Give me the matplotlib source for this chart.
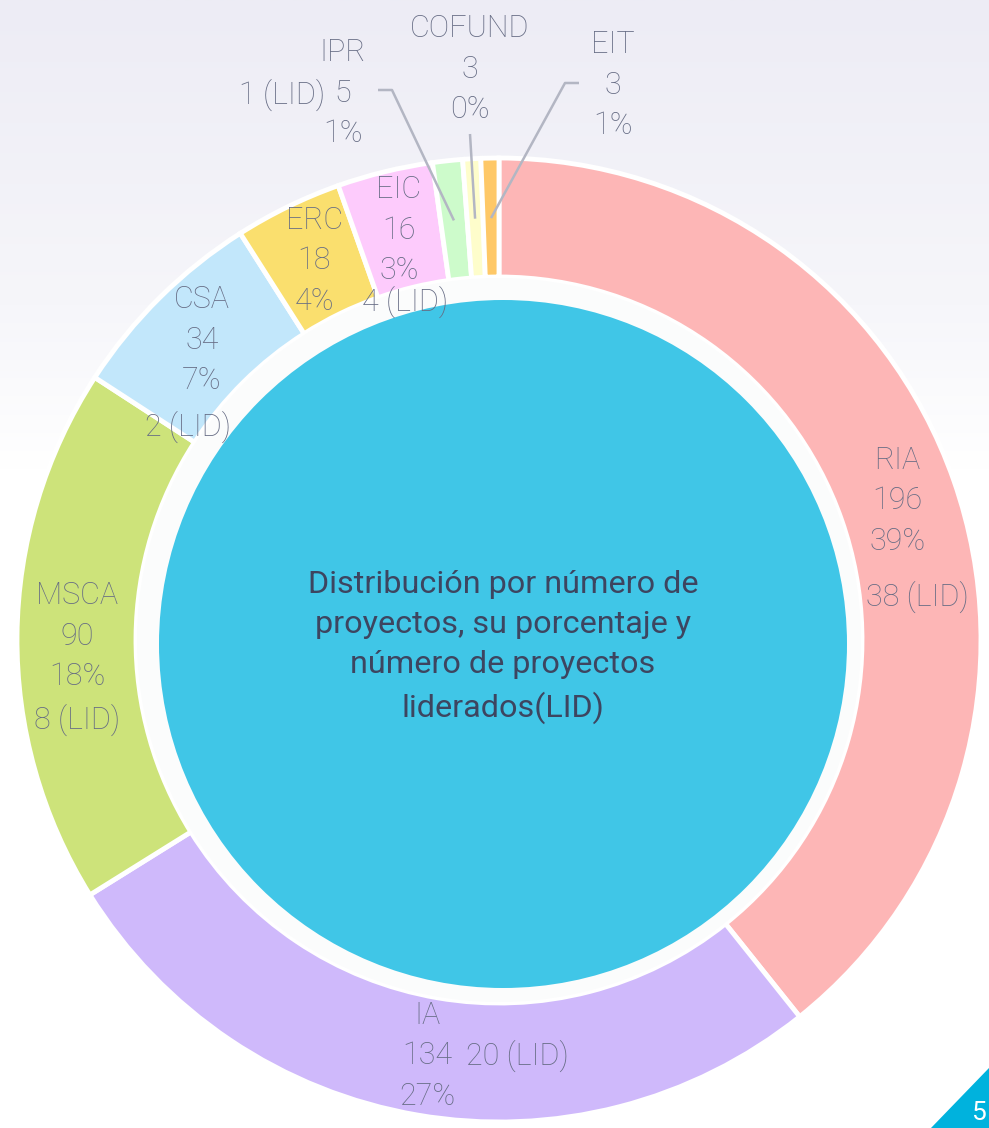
import numpy as np
import matplotlib
matplotlib.use("Agg")
import matplotlib.pyplot as plt
from matplotlib.patches import Circle, Polygon
from matplotlib.colors import LinearSegmentedColormap

# --- data ---------------------------------------------------------------
programas = ["RIA", "IA", "MSCA", "CSA", "ERC", "EIC", "IPR", "COFUND", "EIT"]
proyectos = [196, 134, 90, 34, 18, 16, 5, 3, 3]
porcentajes = [39, 27, 18, 7, 4, 3, 1, 0, 1]
liderados = [38, 20, 8, 2, None, 4, 1, None, None]
titulo = "Distribución por número de\nproyectos, su porcentaje y\nnúmero de proyectos\nliderados(LID)"

colores = ["#FDB6B6", "#CFB9FB", "#CDE37A", "#C2E7FB", "#FADF6E",
           "#FDCBFC", "#CDFBCB", "#FEFDCB", "#FEC867"]

# --- layout (pixel coordinates, origin top-left) ------------------------
W, H = 989, 1128
CX, CY = 499, 640
R_OUT, R_IN = 482, 363
R_MID = 422
BLUE_C, BLUE_R = (503, 644), 344

# outside labels for the thin wedges: text centre and elbow of leader line
fuera = {
    "IPR": ((343, 93), (392, 90), (378, 90)),
    "COFUND": ((470, 69), (470, 134), None),
    "EIT": ((613, 85), (565, 83), (579, 83)),
}
# position of the "(LID)" annotation, per programme
pos_lid = {
    "RIA": (917, 597), "IA": (517, 1056), "MSCA": (77, 720),
    "CSA": (188, 427), "EIC": (405, 302), "IPR": (282, 95),
}

TXT = "#666C84"
FONT = "Roboto"
LS = 1.5


def P(x, y):
    return x, H - y


fig = plt.figure(figsize=(W / 100, H / 100), dpi=100)
ax = fig.add_axes([0, 0, 1, 1])

# soft lavender haze at the top of the page
cmap = LinearSegmentedColormap.from_list(
    "bg", [(0, "#FFFFFF"), (0.35, "#F6F6FA"), (1, "#EDECF5")])
grad = np.linspace(0, 1, 256)[:, None]
ax.imshow(grad, extent=(0, W, H - 470, H), origin="lower", cmap=cmap,
          aspect="auto", zorder=0)

wedges, _ = ax.pie(
    proyectos, colors=colores, startangle=90, counterclock=False,
    radius=R_OUT, center=P(CX, CY), frame=True,
    wedgeprops=dict(width=R_OUT - R_IN, edgecolor="white", linewidth=3.5),
)
for w in wedges:
    w.set_zorder(2)

# white gap and central disc
ax.add_patch(Circle(P(CX, CY), R_IN - 1, facecolor="#FBFCFC", edgecolor="none", zorder=3))
ax.add_patch(Circle(P(*BLUE_C), BLUE_R, facecolor="#40C6E7", edgecolor="none", zorder=4))
ax.text(*P(503, 647), titulo, ha="center", va="center", fontsize=23.3,
        color="#3D4560", family=FONT, linespacing=1.47, zorder=6)

for w, nombre, n, pct, lid in zip(wedges, programas, proyectos, porcentajes, liderados):
    th = np.deg2rad((w.theta1 + w.theta2) / 2)
    mx = w.center[0] + R_MID * np.cos(th)
    my = w.center[1] + R_MID * np.sin(th)
    etiqueta = f"{nombre}\n{n}\n{pct}%"
    if nombre in fuera:
        (tx, ty), p1, p2 = fuera[nombre]
        ax.text(*P(tx, ty), etiqueta, ha="center", va="center", fontsize=22,
                color=TXT, family=FONT, fontweight="light", linespacing=LS, zorder=6)
        xs = [mx, P(*p1)[0]]
        ys = [my, P(*p1)[1]]
        if p2 is not None:
            xs.append(P(*p2)[0])
            ys.append(P(*p2)[1])
        ax.plot(xs, ys, color="#B3B6C3", lw=1.8, zorder=5, solid_capstyle="butt")
    else:
        ax.text(mx, my, etiqueta, ha="center", va="center", fontsize=22,
                color=TXT, family=FONT, fontweight="light", linespacing=LS, zorder=6)
    if lid is not None:
        ax.text(*P(*pos_lid[nombre]), f"{lid} (LID)", ha="center", va="center",
                fontsize=22, color=TXT, family=FONT, fontweight="light", zorder=6)

# page corner marker
ax.add_patch(Polygon([P(931, H), P(W, 1068), P(W, H)], closed=True,
                     facecolor="#00B2DD", edgecolor="none", zorder=7))
ax.text(*P(986, 1125), "5", ha="right", va="bottom", fontsize=19, color="white",
        family=FONT, zorder=8)

ax.set_xlim(0, W)
ax.set_ylim(0, H)
ax.set_aspect("auto")
ax.axis("off")
fig.savefig("out.png", dpi=100, facecolor="white")
